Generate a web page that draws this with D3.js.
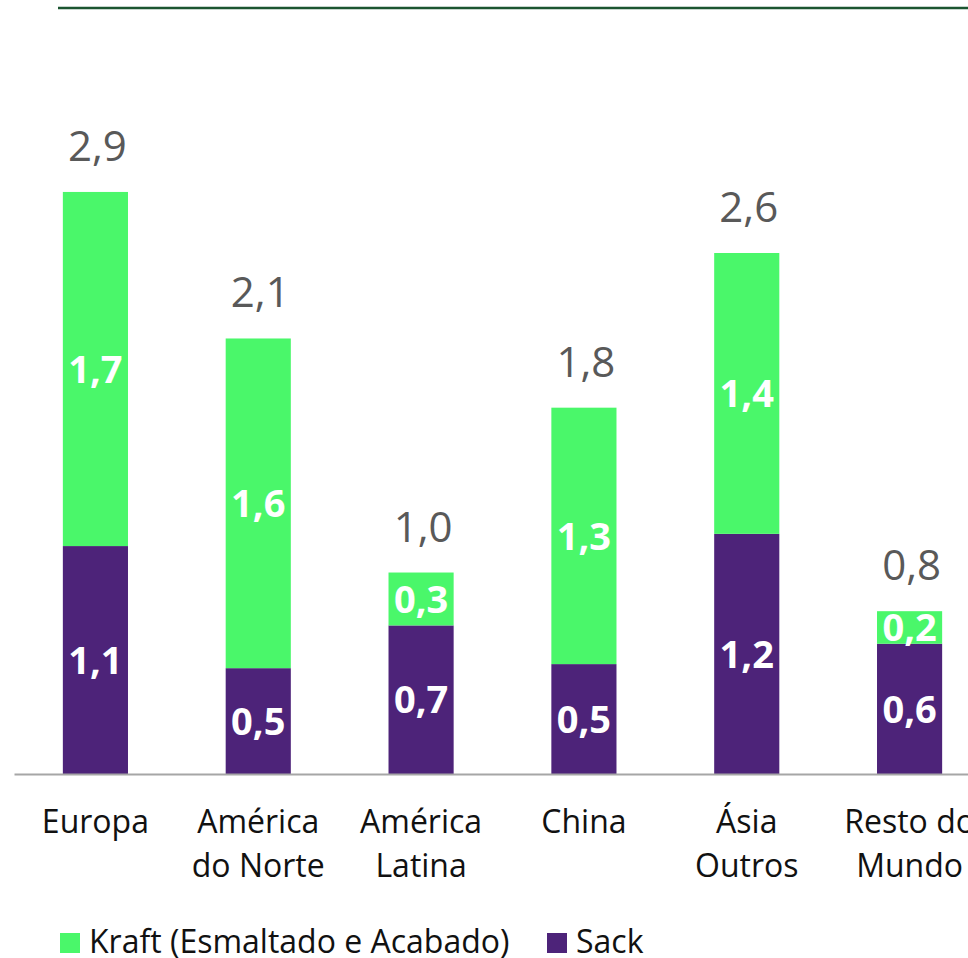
<!DOCTYPE html>
<html>
<head>
<meta charset="utf-8">
<script src="https://cdn.jsdelivr.net/npm/d3@7/dist/d3.min.js"></script>
<style>
  html, body { margin: 0; padding: 0; background: #fff; overflow: hidden; }
  svg { display: block; font-family: "Open Sans", sans-serif; }
</style>
</head>
<body>
<svg id="chart" width="968" height="958"></svg>
<script>
// Regions (each label split into lines)
const categories = [
  ["Europa"],
  ["América", "do Norte"],
  ["América", "Latina"],
  ["China"],
  ["Ásia", "Outros"],
  ["Resto do", "Mundo"]
];
// Capacity by grade (million tonnes)
const sackValues  = [1.12, 0.52, 0.73, 0.54, 1.18, 0.64];
const kraftValues = [1.74, 1.62, 0.26, 1.26, 1.38, 0.16];
const seriesNames = ["Kraft (Esmaltado e Acabado)", "Sack"];

const kraftColor = "#4AF76A";
const sackColor = "#4D2379";

const fmt = v => d3.format(".1f")(v).replace(".", ",");

const svg = d3.select("#chart");

const keys = categories.map(c => c.join(" "));
const rows = keys.map((k, i) => ({ key: k, sack: sackValues[i], kraft: kraftValues[i] }));

const x = d3.scaleBand()
  .domain(keys)
  .range([14, 991])
  .paddingInner(0.6)
  .paddingOuter(0.3);

const y = d3.scaleLinear()
  .domain([0, 3.7])
  .range([774, 21]);

const stack = d3.stack().keys(["sack", "kraft"]);
const stacked = stack(rows);
const colors = { sack: sackColor, kraft: kraftColor };

// top rule
svg.append("line")
  .attr("x1", 58).attr("x2", 968)
  .attr("y1", 8).attr("y2", 8)
  .attr("stroke", "#1B5530")
  .attr("stroke-width", 2.5);

// stacked bars
const layers = svg.append("g").selectAll("g")
  .data(stacked)
  .join("g")
  .attr("fill", d => colors[d.key]);

layers.selectAll("rect")
  .data(d => d)
  .join("rect")
  .attr("x", d => x(d.data.key))
  .attr("width", x.bandwidth())
  .attr("y", d => y(d[1]))
  .attr("height", d => y(d[0]) - y(d[1]));

// segment value labels
layers.selectAll("text")
  .data(d => d.map(s => ({ s, v: d.key === "sack" ? s.data.sack : s.data.kraft })))
  .join("text")
  .attr("x", d => x(d.s.data.key) + x.bandwidth() / 2)
  .attr("y", d => (y(d.s[0]) + y(d.s[1])) / 2)
  .attr("dy", "0.36em")
  .attr("text-anchor", "middle")
  .attr("fill", "#fff")
  .attr("font-weight", 700)
  .attr("font-size", 38)
  .text(d => fmt(d.v));

// totals
svg.append("g").selectAll("text")
  .data(rows)
  .join("text")
  .attr("x", d => x(d.key) + x.bandwidth() / 2 + 2)
  .attr("y", d => y(d.sack + d.kraft) - 31)
  .attr("text-anchor", "middle")
  .attr("fill", "#595959")
  .attr("font-size", 42)
  .text(d => fmt(d.sack + d.kraft));

// baseline axis
const axis = svg.append("g")
  .attr("transform", `translate(0,${y(0)})`)
  .call(d3.axisBottom(x).tickSize(0).tickFormat(""));
axis.select(".domain").attr("stroke", "#A6A6A6").attr("stroke-width", 2);

// category labels
const catText = svg.append("g").selectAll("text")
  .data(categories)
  .join("text")
  .attr("x", (d, i) => x(keys[i]) + x.bandwidth() / 2)
  .attr("y", 833)
  .attr("text-anchor", "middle")
  .attr("fill", "#111")
  .attr("font-size", 32);
catText.selectAll("tspan")
  .data(d => d)
  .join("tspan")
  .attr("x", function () { return d3.select(this.parentNode).attr("x"); })
  .attr("dy", (d, i) => i === 0 ? 0 : 43.5)
  .text(d => d);

// legend
const legendItems = [
  { name: seriesNames[0], color: kraftColor, x: 60 },
  { name: seriesNames[1], color: sackColor, x: 547 }
];
const lg = svg.append("g").selectAll("g")
  .data(legendItems)
  .join("g")
  .attr("transform", d => `translate(${d.x},933)`);
lg.append("rect").attr("width", 20).attr("height", 20).attr("fill", d => d.color);
lg.append("text")
  .attr("x", 29).attr("y", 20)
  .attr("font-size", 32)
  .attr("fill", "#111")
  .text(d => d.name);
</script>
</body>
</html>
